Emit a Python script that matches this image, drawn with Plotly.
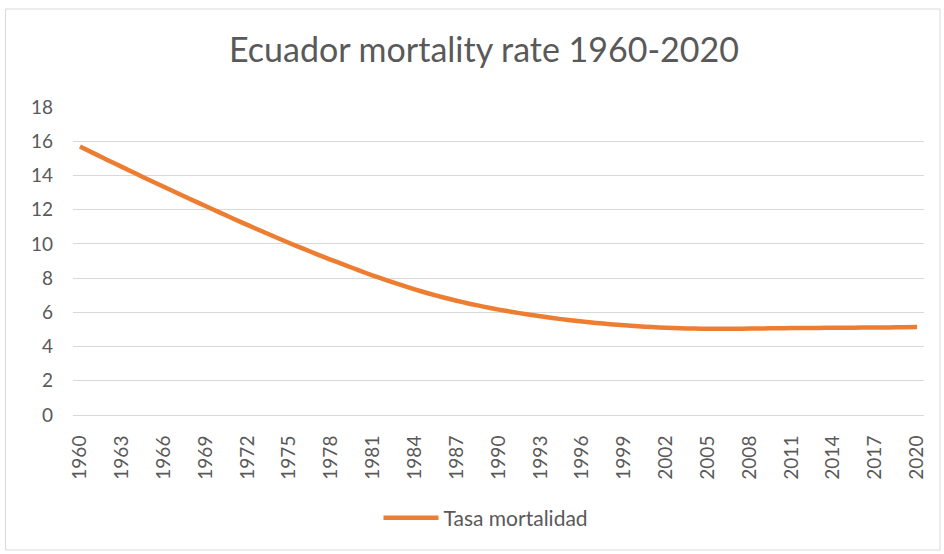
import plotly.graph_objects as go

years = list(range(1960, 2021))
tasa_mortalidad = [
    15.69, 15.29, 14.89, 14.50, 14.11, 13.72, 13.34, 12.96, 12.58, 12.21,
    11.84, 11.47, 11.11, 10.75, 10.40, 10.05, 9.72, 9.39, 9.07, 8.76,
    8.45, 8.15, 7.87, 7.60, 7.34, 7.10, 6.88, 6.68, 6.49, 6.32,
    6.16, 6.02, 5.89, 5.77, 5.66, 5.55, 5.46, 5.38, 5.31, 5.25,
    5.19, 5.14, 5.10, 5.07, 5.05, 5.04, 5.04, 5.04, 5.05, 5.06,
    5.07, 5.08, 5.09, 5.09, 5.10, 5.10, 5.11, 5.11, 5.12, 5.13,
    5.15,
]
tick_years = list(range(1960, 2021, 3))
y_ticks = list(range(0, 19, 2))

W, H = 944, 554
L, R, T, B = 73, 20, 107, 139
pw, ph = W - L - R, H - T - B


def px_x(p):
    return (p - L) / pw


def px_y(p):
    return (H - B - p) / ph


fig = go.Figure()
fig.add_trace(go.Scatter(
    x=years, y=tasa_mortalidad, mode="lines", name="Tasa mortalidad",
    line=dict(color="#ED7D31", width=4.5, shape="spline", smoothing=0.6),
))

fig.update_layout(
    width=W, height=H,
    margin=dict(l=L, r=R, t=T, b=B),
    paper_bgcolor="white", plot_bgcolor="white",
    font=dict(family="Lato, 'Open Sans', sans-serif", color="#595959", size=19),
    title=dict(text="Ecuador mortality rate 1960-2020", x=px_x(484), xref="paper",
               xanchor="center", y=1 - 50 / H, yanchor="middle",
               font=dict(size=34, color="#595959")),
    showlegend=True,
    legend=dict(orientation="h", x=px_x(486), xanchor="center", y=px_y(518), yanchor="middle",
                font=dict(size=21, color="#595959"), itemwidth=55),
    xaxis=dict(range=[1959.5, 2020.5], tickvals=tick_years, ticktext=[str(y) for y in tick_years],
               tickangle=-90, showgrid=False, showline=True, linecolor="#d9d9d9",
               ticks="", zeroline=False, fixedrange=True, ticklabelstandoff=12),
    yaxis=dict(range=[0, 18], tickvals=y_ticks, showgrid=True, gridcolor="#d9d9d9",
               gridwidth=1, zeroline=False, showline=False, ticks="", ticklen=0,
               fixedrange=True, ticklabelstandoff=19),
    shapes=[dict(type="rect", xref="paper", yref="paper",
                 x0=px_x(5.5), x1=px_x(940), y0=px_y(550), y1=px_y(9),
                 line=dict(color="#d9d9d9", width=1), fillcolor="rgba(0,0,0,0)", layer="below")],
)

fig.write_html("out.html", config={"displayModeBar": False},
               post_script="document.body.style.margin='0';")
